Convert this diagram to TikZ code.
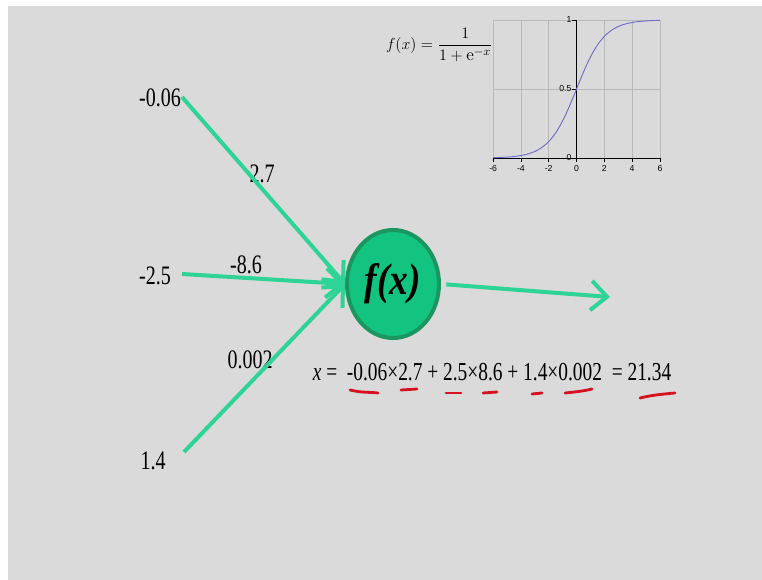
\documentclass[tikz,border=0pt]{standalone}
\usepackage{fontspec}
\usepackage{tikz}
\usetikzlibrary{arrows.meta, shapes.geometric, positioning}
\newfontfamily\slidefont{Liberation Serif}[FakeStretch=0.75]
\newfontfamily\cellfont{Liberation Serif}[FakeStretch=0.85]
\newfontfamily\plotfont{Liberation Sans}
\definecolor{slidegray}{RGB}{218,218,218}
\definecolor{synapse}{RGB}{46,212,150}
\definecolor{cellfill}{RGB}{18,196,128}
\definecolor{celledge}{RGB}{28,150,96}
\definecolor{inkred}{RGB}{214,16,30}
\definecolor{curveblue}{RGB}{110,110,200}

\begin{document}
\begin{tikzpicture}[x=0.75pt, y=-0.75pt]
\tikzstyle{value} = [font=\slidefont\fontsize{20}{22}\selectfont, inner sep=1pt]
\tikzstyle{cell} = [ellipse, minimum width=69pt, minimum height=81pt, fill=cellfill, draw=celledge, line width=3pt, inner sep=0pt, font=\cellfont\bfseries\itshape\fontsize{33}{35}\selectfont]
\tikzstyle{link} = [synapse, line width=3pt, -{Straight Barb[length=12pt, width=22pt]}]
\tikzstyle{ink} = [inkred, line width=2.1pt, line cap=round]
\tikzstyle{tick} = [font=\plotfont\fontsize{6.5}{7}\selectfont, inner sep=1pt]
\tikzstyle{grid} = [gray!55, line width=0.4pt]

% Background
\fill[white] (0,0) rectangle (762,580);
\fill[slidegray] (8,6) rectangle (762,580);

% Neuron
\node (neuron) [cell] at (393,284) {f(x)};
\coordinate (out) at (610,297);

% Inputs
\node (v1) [value] at (160,98) {-0.06};
\node (v2) [value] at (155,276) {-2.5};
\node (v3) [value] at (153,461) {1.4};
\coordinate (s1) at (182,97);
\coordinate (s2) at (182,274);
\coordinate (s3) at (184,452);

% Weights
\node (w1) [value] at (262,174) {2.7};
\node (w2) [value] at (246,265) {-8.6};
\node (w3) [value] at (250,360) {0.002};

% Arrows
\draw [link] (s1) -- (neuron.west);
\draw [link] (s2) -- (neuron.west);
\draw [link] (s3) -- (neuron.west);
\draw [link, shorten <=4pt] (neuron.east) -- (out);

% Weighted sum
\node (sum) [value, font=\slidefont\fontsize{19.4}{22}\selectfont] at (492,372) {\textit{x} =\ \ -0.06×2.7 + 2.5×8.6 + 1.4×0.002\ \ = 21.34};
\draw [ink] (350,390) .. controls (362,393) and (372,392) .. (378,393);
\draw [ink] (401,390) -- (417,389);
\draw [ink] (446,393) -- (461,393);
\draw [ink] (483,393) -- (497,392);
\draw [ink] (532,394) -- (542,393);
\draw [ink] (565,393) .. controls (575,392) and (584,391) .. (592,389);
\draw [ink] (640,398) .. controls (652,395) and (664,394) .. (675,393);

% Sigmoid plot
\node (formula) [anchor=east, inner sep=0pt, font=\fontsize{13}{15}\selectfont] at (493,45) {$\displaystyle f(x)=\frac{1}{1+\mathrm{e}^{-x}}$};
\begin{scope}[shift={(576.5,158)}, x=10.425pt, y=103.5pt]
  \foreach \gx in {-4,-2,2,4}
    \draw [grid] (\gx,0) -- (\gx,1);
  \draw [grid] (-6,0.5) -- (6,0.5);
  \draw [grid] (-6,0) -- (-6,1) -- (6,1) -- (6,0);
  \draw [black, line width=0.5pt] (-6,0) -- (6,0);
  \draw [black, line width=0.5pt] (0,0) -- (0,1);
  \foreach \gx in {-6,-4,-2,0,2,4,6} {
    \draw [black, line width=0.4pt] (\gx,0) -- (\gx,-0.03);
    \node [tick, below] at (\gx,-0.04) {\gx};
  }
  \foreach \gy in {0,0.5,1} {
    \draw [black, line width=0.4pt] (0,\gy) -- (-0.3,\gy);
    \node [tick, left, inner sep=0.5pt] at (-0.3,\gy) {\gy};
  }
  \draw [curveblue, line width=0.7pt, domain=-6:6, samples=80, smooth] plot (\x, {1/(1+exp(-\x))});
\end{scope}
\end{tikzpicture}
\end{document}
